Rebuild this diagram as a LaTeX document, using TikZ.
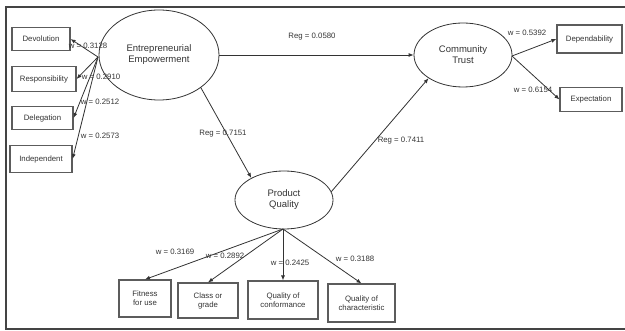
\documentclass[tikz,border=0pt]{standalone}
\usepackage{fontspec}
\setmainfont{Liberation Sans}
\usetikzlibrary{arrows.meta,shapes.geometric}
\definecolor{ink}{HTML}{333333}
\definecolor{frame}{HTML}{444444}
\begin{document}
\begin{tikzpicture}[x=1pt,y=-1pt,
  latent/.style={draw=ink,line width=0.8pt,ellipse,inner sep=0pt,align=center,font=\fontsize{9.5}{11}\selectfont,text=ink},
  indic/.style={draw=ink!80,line width=1.1pt,inner sep=0pt,align=center,font=\fontsize{7.8}{9}\selectfont,text=ink},
  wlab/.style={inner sep=0.5pt,font=\fontsize{7.8}{9}\selectfont,text=ink},
  arr/.style={draw=ink,line width=0.8pt,-{Latex[length=5pt,width=4pt]}}]
\useasboundingbox (0,0) rectangle (625,331);
\draw[frame,line width=1.6pt] (626,7) -- (6,7) -- (6,329) -- (626,329);

% latent variables
\node[latent,minimum width=120pt,minimum height=90pt] (ee) at (159,55) {Entrepreneurial\\Empowerment};
\node[latent,minimum width=98pt,minimum height=64pt] (ct) at (463,55) {Community\\Trust};
\node[latent,minimum width=98pt,minimum height=58pt] (pq) at (284,200) {Product\\Quality};

% left indicators
\node[indic,minimum width=58pt,minimum height=23pt] (dev) at (41,39) {Devolution};
\node[indic,minimum width=64pt,minimum height=25pt] (res) at (44,79) {Responsibility};
\node[indic,minimum width=61pt,minimum height=23pt] (del) at (42.5,118) {Delegation};
\node[indic,minimum width=62pt,minimum height=27pt] (ind) at (41,159) {Independent};

% right indicators
\node[indic,minimum width=65pt,minimum height=28pt] (dep) at (589.5,39) {Dependability};
\node[indic,minimum width=62pt,minimum height=24pt] (exp) at (591,99.5) {Expectation};

% bottom indicators
\node[indic,minimum width=52pt,minimum height=37pt] (fit) at (145,298.5) {Fitness\\for use};
\node[indic,minimum width=60pt,minimum height=35pt] (cls) at (208,300.5) {Class or\\grade};
\node[indic,minimum width=70pt,minimum height=38pt] (con) at (283,300) {Quality of\\conformance};
\node[indic,minimum width=67pt,minimum height=38pt] (chr) at (361.5,303) {Quality of\\characteristic};

% fan points
\coordinate (eeL) at (98,57);
\coordinate (ctR) at (512,56);
\coordinate (pqB) at (283,229);

% structural paths
\draw[arr] (ee.east) -- (ct.west);
\draw[arr] (ee.-38) -- (pq.146);
\draw[arr] (pq.10) -- (ct.-146);

% measurement paths
\draw[arr] (eeL) -- (dev.east);
\draw[arr] (eeL) -- (res.east);
\draw[arr] (eeL) -- (del.east);
\draw[arr] (eeL) -- (ind.east);
\draw[arr] (ctR) -- (dep.west);
\draw[arr] (ctR) -- (exp.west);
\draw[arr] (pqB) -- (fit.north);
\draw[arr] (pqB) -- (cls.north);
\draw[arr] (pqB) -- (con.north);
\draw[arr] (pqB) -- (chr.north);

% labels
\node[wlab] (l1) at (312,37) {Reg = 0.0580};
\node[wlab] (l2) at (223,134) {Reg = 0.7151};
\node[wlab] (l3) at (401,141) {Reg = 0.7411};
\node[wlab] (w1) at (88,46) {w = 0.3128};
\node[wlab] (w2) at (101,77) {w = 0.2910};
\node[wlab] (w3) at (100,102) {w = 0.2512};
\node[wlab] (w4) at (100,136) {w = 0.2573};
\node[wlab] (w5) at (527,33) {w = 0.5392};
\node[wlab] (w6) at (533,90) {w = 0.6154};
\node[wlab] (w7) at (175,252) {w = 0.3169};
\node[wlab] (w8) at (225,256) {w = 0.2892};
\node[wlab] (w9) at (290,263) {w = 0.2425};
\node[wlab] (w10) at (355,259) {w = 0.3188};
\end{tikzpicture}
\end{document}
